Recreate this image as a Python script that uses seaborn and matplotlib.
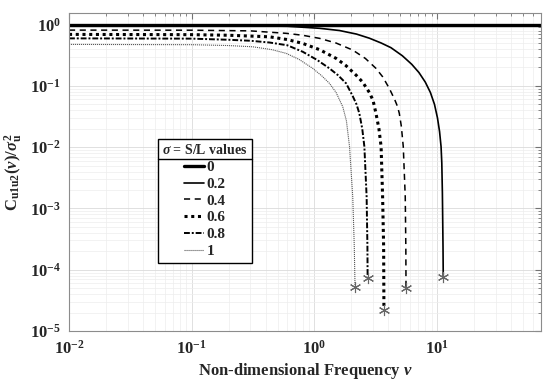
import numpy as np
import pandas as pd
import matplotlib
matplotlib.use("Agg")
import matplotlib.pyplot as plt
from matplotlib.lines import Line2D
import seaborn as sns

# curve data (nu, normalised cross-spectrum)
sigma_labels = ["0", "0.2", "0.4", "0.6", "0.8", "1"]

nu_00 = [0.01, 70]
c_00 = [1.0, 1.0]

nu_02 = [0.01, 0.1, 0.3, 0.6, 1.1, 1.6, 2.2, 2.8, 3.5, 4.2, 5.2, 6.2, 7.1, 8.0,
         8.8, 9.5, 10.05, 10.45, 10.75, 10.9, 11.02, 11.15, 11.2]
c_02 = [0.96, 0.96, 0.955, 0.94, 0.87, 0.80, 0.70, 0.60, 0.50, 0.42, 0.31,
        0.225, 0.165, 0.115, 0.078, 0.05, 0.030, 0.018, 0.0102, 0.0055,
        0.0018, 2.4e-4, 7.7e-5]

nu_04 = [0.01, 0.1, 0.3, 0.59, 0.8, 1.1, 1.5, 2.05, 2.6, 3.17, 3.6, 4.07, 4.5,
         4.75, 4.91, 5.1, 5.29, 5.49, 5.55, 5.57]
c_04 = [0.813, 0.81, 0.79, 0.72, 0.67, 0.596, 0.50, 0.384, 0.28, 0.193, 0.14,
        0.091, 0.06, 0.046, 0.0356, 0.022, 0.0102, 0.00155, 2.4e-4, 5.0e-5]

nu_06 = [0.01, 0.1, 0.2, 0.43, 0.6, 0.8, 1.1, 1.5, 1.8, 2.18, 2.47, 2.8, 3.0,
         3.17, 3.35, 3.49, 3.59, 3.66, 3.68]
c_06 = [0.692, 0.685, 0.67, 0.632, 0.57, 0.494, 0.39, 0.281, 0.215, 0.150,
        0.115, 0.078, 0.058, 0.0356, 0.02, 0.0102, 0.00155, 2.4e-4, 2.2e-5]

nu_08 = [0.01, 0.1, 0.2, 0.3, 0.431, 0.6, 0.803, 1.05, 1.324, 1.55, 1.81,
         2.05, 2.2, 2.32, 2.45, 2.55, 2.66, 2.70, 2.71]
c_08 = [0.596, 0.59, 0.565, 0.545, 0.51, 0.46, 0.36, 0.265, 0.193, 0.15,
        0.11, 0.068, 0.05, 0.0356, 0.02, 0.0102, 0.00155, 2.4e-4, 7.2e-5]

nu_10 = [0.01, 0.1, 0.2, 0.315, 0.45, 0.589, 0.75, 0.968, 1.15, 1.324, 1.5,
         1.70, 1.82, 1.93, 2.05, 2.11, 2.14]
c_10 = [0.475, 0.47, 0.455, 0.434, 0.39, 0.339, 0.27, 0.193, 0.145, 0.110,
        0.078, 0.0456, 0.027, 0.0102, 0.00155, 2.4e-4, 5.3e-5]

curves = [(nu_00, c_00), (nu_02, c_02), (nu_04, c_04),
          (nu_06, c_06), (nu_08, c_08), (nu_10, c_10)]

# line styles, MATLAB-ish
styles = [
    dict(color="black", lw=2.4, ls="-"),
    dict(color="black", lw=1.2, ls="-"),
    dict(color="black", lw=1.1, ls=(0, (4, 3))),
    dict(color="black", lw=2.2, ls=(0, (1, 1.2))),
    dict(color="black", lw=1.4, ls=(0, (3, 1, 1, 1))),
    dict(color="0.35", lw=0.8, ls=(0, (1, 0.8))),
]

sns.set_style("white")
plt.rcParams["font.family"] = ["Liberation Serif", "DejaVu Serif"]
plt.rcParams["font.weight"] = "bold"
plt.rcParams["mathtext.fontset"] = "custom"
plt.rcParams["mathtext.rm"] = "Liberation Serif:bold"
plt.rcParams["mathtext.bf"] = "Liberation Serif:bold"
plt.rcParams["mathtext.it"] = "Liberation Serif:italic:bold"

fig = plt.figure(figsize=(5.5, 3.86), dpi=100)
ax = fig.add_axes([0.1255, 0.1425, 0.858, 0.824])

handles = []
for (nu, c), st, lab in zip(curves, styles, sigma_labels):
    df = pd.DataFrame({"nu": nu, "C": c})
    sns.lineplot(data=df, x="nu", y="C", ax=ax, color=st["color"],
                 linewidth=st["lw"], linestyle=st["ls"], legend=False)
    handles.append(Line2D([], [], color=st["color"], lw=st["lw"], ls=st["ls"]))
    if lab != "0":
        ax.plot(nu[-1], c[-1], marker=(6, 2, 0), color="0.4", ms=8, mew=0.8)

ax.set_xscale("log")
ax.set_yscale("log")
ax.set_xlim(0.01, 70)
ax.set_ylim(1e-5, 1.55)

ax.grid(True, which="major", color="0.86", lw=0.6)
ax.grid(True, which="minor", color="0.93", lw=0.5)
ax.set_axisbelow(True)
ax.tick_params(which="both", direction="in", top=True, right=True,
               color="0.45", labelsize=12)
ax.tick_params(which="major", length=4, pad=6)
ax.tick_params(which="minor", length=2)
for s in ax.spines.values():
    s.set_color("0.55")
    s.set_linewidth(0.8)

ax.set_xlabel(r"Non-dimensional Frequency $\nu$", fontsize=12,
              fontweight="bold", labelpad=3)
ax.set_ylabel(r"$\mathrm{C_{u1u2}}(\nu)/\sigma^{2}_{\mathrm{u}}$", fontsize=12,
              labelpad=4)

leg = ax.legend(handles, sigma_labels, title=r"$\sigma$ = S/L values",
                loc="upper left", bbox_to_anchor=(0.188, 0.604),
                borderaxespad=0, fancybox=False, edgecolor="black",
                framealpha=1, handlelength=1.3, handletextpad=0.15,
                labelspacing=0.2, borderpad=0.3, alignment="center",
                prop=dict(size=11, weight="bold"),
                title_fontproperties=dict(size=10, weight="bold"))
leg.get_frame().set_linewidth(1.0)

# separator line below the legend title
fig.canvas.draw()
fb = leg.get_frame().get_window_extent()
tb = leg.get_title().get_window_extent()
ysep = tb.y0 - 2
inv = fig.transFigure.inverted()
p0 = inv.transform((fb.x0, ysep))
p1 = inv.transform((fb.x1, ysep))
fig.add_artist(Line2D([p0[0], p1[0]], [p0[1], p1[1]], color="black", lw=1.0,
                      transform=fig.transFigure, zorder=10))

fig.savefig("out.png", dpi=100)
